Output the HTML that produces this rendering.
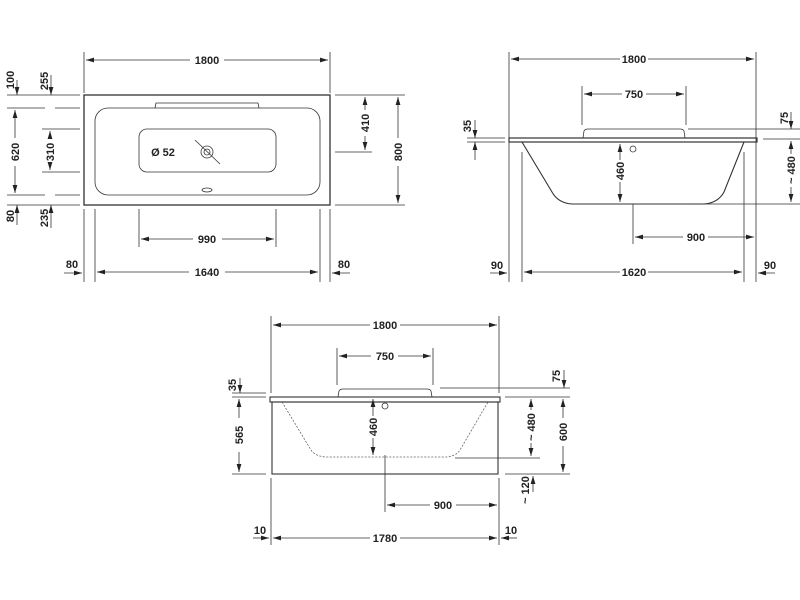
<!DOCTYPE html>
<html><head><meta charset="utf-8"><style>
html,body{margin:0;padding:0;background:#fff;}
svg{display:block}
text{font-family:"Liberation Sans",sans-serif;font-size:11px;font-weight:bold;fill:#222;}
</style></head><body>
<svg width="800" height="600" viewBox="0 0 800 600" xmlns="http://www.w3.org/2000/svg">
<defs>
<marker id="a" viewBox="0 0 10 6" refX="10" refY="3" markerWidth="8" markerHeight="5" orient="auto-start-reverse" markerUnits="userSpaceOnUse"><path d="M0,0L10,3L0,6z" fill="#222"/></marker>
</defs>
<g stroke="#333" stroke-width="0.8" fill="none">
<!-- VIEW 1 -->
<rect x="84" y="95" width="246" height="110" stroke-width="1.3"/>
<rect x="95" y="108" width="225" height="87" rx="13"/>
<rect x="139" y="129" width="137" height="43" rx="8"/>
<path d="M155,108 L156,103 L258,103 L259,108" />
<circle cx="207" cy="152" r="6"/><circle cx="207" cy="152" r="3"/>
<line x1="195" y1="140" x2="220" y2="164"/>
<ellipse cx="207" cy="190" rx="5" ry="2"/>
<line x1="84" y1="52" x2="84" y2="93"/><line x1="330" y1="52" x2="330" y2="93"/>
<line x1="86" y1="60" x2="190" y2="60" marker-start="url(#a)"/><line x1="224" y1="60" x2="328" y2="60" marker-end="url(#a)"/>
<line x1="7" y1="95" x2="80" y2="95"/><line x1="7" y1="205" x2="80" y2="205"/>
<line x1="7" y1="108" x2="45" y2="108"/><line x1="55" y1="108" x2="80" y2="108"/>
<line x1="7" y1="195" x2="45" y2="195"/><line x1="55" y1="195" x2="80" y2="195"/>
<line x1="42" y1="129" x2="80" y2="129"/><line x1="42" y1="172" x2="80" y2="172"/>
<line x1="17" y1="80" x2="17" y2="95" marker-end="url(#a)"/>
<line x1="51" y1="75" x2="51" y2="95" marker-end="url(#a)"/>
<line x1="17" y1="225" x2="17" y2="205" marker-end="url(#a)"/>
<line x1="51" y1="228" x2="51" y2="205" marker-end="url(#a)"/>
<line x1="15" y1="110" x2="15" y2="138" marker-start="url(#a)"/><line x1="15" y1="166" x2="15" y2="193" marker-end="url(#a)"/>
<line x1="50" y1="131" x2="50" y2="139" marker-start="url(#a)"/><line x1="50" y1="164" x2="50" y2="170" marker-end="url(#a)"/>
<line x1="335" y1="95" x2="405" y2="95"/><line x1="335" y1="205" x2="405" y2="205"/>
<line x1="335" y1="152" x2="372" y2="152"/>
<line x1="365" y1="97" x2="365" y2="110" marker-start="url(#a)"/><line x1="365" y1="136" x2="365" y2="150" marker-end="url(#a)"/>
<line x1="398" y1="97" x2="398" y2="138" marker-start="url(#a)"/><line x1="398" y1="166" x2="398" y2="203" marker-end="url(#a)"/>
<line x1="84" y1="209" x2="84" y2="282"/><line x1="95" y1="209" x2="95" y2="282"/>
<line x1="320" y1="209" x2="320" y2="282"/><line x1="330" y1="209" x2="330" y2="282"/>
<line x1="139" y1="209" x2="139" y2="247"/><line x1="276" y1="209" x2="276" y2="247"/>
<line x1="141" y1="239" x2="193" y2="239" marker-start="url(#a)"/><line x1="222" y1="239" x2="274" y2="239" marker-end="url(#a)"/>
<line x1="97" y1="272" x2="189" y2="272" marker-start="url(#a)"/><line x1="225" y1="272" x2="318" y2="272" marker-end="url(#a)"/>
<line x1="64" y1="273" x2="82" y2="273" marker-end="url(#a)"/><line x1="350" y1="273" x2="332" y2="273" marker-end="url(#a)"/>
<!-- VIEW 2 -->
<rect x="509" y="138" width="248" height="4" stroke-width="1.2"/>
<path d="M583,138 L584,131 Q585,129 588,129 L680,129 Q683,129 684,131 L685,138"/>
<path d="M522,142 L552,192 Q558,203 572,204 L704,204 Q718,203 724,192 L744,142" stroke-width="1.1"/>
<circle cx="633" cy="149" r="3"/>
<line x1="509" y1="52" x2="509" y2="282"/><line x1="756" y1="52" x2="756" y2="282"/>
<line x1="511" y1="59" x2="620" y2="59" marker-start="url(#a)"/><line x1="648" y1="59" x2="754" y2="59" marker-end="url(#a)"/>
<line x1="582" y1="86" x2="582" y2="125"/><line x1="686" y1="86" x2="686" y2="125"/>
<line x1="584" y1="94" x2="622" y2="94" marker-start="url(#a)"/><line x1="646" y1="94" x2="684" y2="94" marker-end="url(#a)"/>
<line x1="620" y1="144" x2="620" y2="160" marker-start="url(#a)"/><line x1="620" y1="182" x2="620" y2="202" marker-end="url(#a)"/>
<line x1="633" y1="204" x2="633" y2="244"/>
<line x1="635" y1="237" x2="683" y2="237" marker-start="url(#a)"/><line x1="708" y1="237" x2="754" y2="237" marker-end="url(#a)"/>
<line x1="522" y1="152" x2="522" y2="282"/><line x1="744" y1="152" x2="744" y2="282"/>
<line x1="524" y1="272" x2="620" y2="272" marker-start="url(#a)"/><line x1="648" y1="272" x2="742" y2="272" marker-end="url(#a)"/>
<line x1="490" y1="273" x2="507" y2="273" marker-end="url(#a)"/><line x1="775" y1="273" x2="758" y2="273" marker-end="url(#a)"/>
<line x1="467" y1="138" x2="505" y2="138"/><line x1="467" y1="142" x2="505" y2="142"/>
<line x1="475" y1="120" x2="475" y2="138" marker-end="url(#a)"/><line x1="475" y1="160" x2="475" y2="142" marker-end="url(#a)"/>
<line x1="688" y1="129" x2="800" y2="129"/><line x1="763" y1="139" x2="800" y2="139"/><line x1="695" y1="204" x2="800" y2="204"/>
<line x1="791" y1="112" x2="791" y2="129" marker-end="url(#a)"/>
<line x1="791" y1="141" x2="791" y2="154" marker-start="url(#a)"/><line x1="791" y1="187" x2="791" y2="202" marker-end="url(#a)"/>
<!-- VIEW 3 -->
<rect x="270" y="397" width="230" height="5" stroke-width="1.1"/>
<rect x="272" y="402" width="226" height="72" stroke-width="1.1"/>
<path d="M338,397 L339,391 Q340,389 343,389 L427,389 Q430,389 431,391 L432,397"/>
<path d="M282,402 L311,450 Q315,456 325,457 L447,457 Q456,456 460,450 L488,402" stroke-dasharray="2,1.5" stroke="#666"/>
<circle cx="385" cy="406" r="3"/>
<line x1="271" y1="316" x2="271" y2="393"/><line x1="499" y1="316" x2="499" y2="393"/>
<line x1="273" y1="325" x2="370" y2="325" marker-start="url(#a)"/><line x1="400" y1="325" x2="497" y2="325" marker-end="url(#a)"/>
<line x1="337" y1="348" x2="337" y2="385"/><line x1="433" y1="348" x2="433" y2="385"/>
<line x1="339" y1="356" x2="371" y2="356" marker-start="url(#a)"/><line x1="398" y1="356" x2="431" y2="356" marker-end="url(#a)"/>
<line x1="373" y1="399" x2="373" y2="416" marker-start="url(#a)"/><line x1="373" y1="438" x2="373" y2="455" marker-end="url(#a)"/>
<line x1="385" y1="455" x2="385" y2="512"/>
<line x1="387" y1="505" x2="430" y2="505" marker-start="url(#a)"/><line x1="456" y1="505" x2="497" y2="505" marker-end="url(#a)"/>
<line x1="271" y1="478" x2="271" y2="545"/><line x1="499" y1="478" x2="499" y2="545"/>
<line x1="273" y1="538" x2="370" y2="538" marker-start="url(#a)"/><line x1="400" y1="538" x2="497" y2="538" marker-end="url(#a)"/>
<line x1="253" y1="538" x2="269" y2="538" marker-end="url(#a)"/><line x1="517" y1="538" x2="501" y2="538" marker-end="url(#a)"/>
<line x1="232" y1="397" x2="266" y2="397"/><line x1="232" y1="393" x2="266" y2="393"/><line x1="232" y1="474" x2="266" y2="474"/>
<line x1="240" y1="378" x2="240" y2="393" marker-end="url(#a)"/>
<line x1="239" y1="399" x2="239" y2="418" marker-start="url(#a)"/><line x1="239" y1="452" x2="239" y2="472" marker-end="url(#a)"/>
<line x1="440" y1="388" x2="570" y2="388"/><line x1="505" y1="397" x2="570" y2="397"/>
<line x1="455" y1="458" x2="540" y2="458"/><line x1="505" y1="474" x2="570" y2="474"/>
<line x1="564" y1="370" x2="564" y2="388" marker-end="url(#a)"/>
<line x1="531" y1="399" x2="531" y2="410" marker-start="url(#a)"/><line x1="531" y1="443" x2="531" y2="456" marker-end="url(#a)"/>
<line x1="563" y1="399" x2="563" y2="418" marker-start="url(#a)"/><line x1="563" y1="446" x2="563" y2="472" marker-end="url(#a)"/>
<line x1="533" y1="476" x2="533" y2="492" marker-start="url(#a)"/>
</g>
<g>
<text x="207" y="64" text-anchor="middle">1800</text>
<text x="163" y="156" text-anchor="middle">Ø 52</text>
<text x="207" y="243" text-anchor="middle">990</text>
<text x="207" y="276" text-anchor="middle">1640</text>
<text x="72" y="268" text-anchor="middle">80</text>
<text x="344" y="268" text-anchor="middle">80</text>
<text transform="translate(14,80) rotate(-90)" text-anchor="middle">100</text>
<text transform="translate(48,81) rotate(-90)" text-anchor="middle">255</text>
<text transform="translate(19,152) rotate(-90)" text-anchor="middle">620</text>
<text transform="translate(54,152) rotate(-90)" text-anchor="middle">310</text>
<text transform="translate(14,216) rotate(-90)" text-anchor="middle">80</text>
<text transform="translate(48,218) rotate(-90)" text-anchor="middle">235</text>
<text transform="translate(369,123) rotate(-90)" text-anchor="middle">410</text>
<text transform="translate(402,152) rotate(-90)" text-anchor="middle">800</text>
<text x="634" y="63" text-anchor="middle">1800</text>
<text x="634" y="98" text-anchor="middle">750</text>
<text transform="translate(624,171) rotate(-90)" text-anchor="middle">460</text>
<text x="696" y="241" text-anchor="middle">900</text>
<text x="634" y="276" text-anchor="middle">1620</text>
<text x="497" y="269" text-anchor="middle">90</text>
<text x="770" y="269" text-anchor="middle">90</text>
<text transform="translate(471,126) rotate(-90)" text-anchor="middle">35</text>
<text transform="translate(788,118) rotate(-90)" text-anchor="middle">75</text>
<text transform="translate(795,170) rotate(-90)" text-anchor="middle">~ 480</text>
<text x="385" y="329" text-anchor="middle">1800</text>
<text x="385" y="360" text-anchor="middle">750</text>
<text transform="translate(377,427) rotate(-90)" text-anchor="middle">460</text>
<text x="443" y="509" text-anchor="middle">900</text>
<text x="385" y="542" text-anchor="middle">1780</text>
<text x="260" y="534" text-anchor="middle">10</text>
<text x="511" y="534" text-anchor="middle">10</text>
<text transform="translate(236,385) rotate(-90)" text-anchor="middle">35</text>
<text transform="translate(243,435) rotate(-90)" text-anchor="middle">565</text>
<text transform="translate(560,376) rotate(-90)" text-anchor="middle">75</text>
<text transform="translate(535,427) rotate(-90)" text-anchor="middle">~ 480</text>
<text transform="translate(567,432) rotate(-90)" text-anchor="middle">600</text>
<text transform="translate(529,490) rotate(-90)" text-anchor="middle">~ 120</text>
</g>
</svg>
</body></html>
